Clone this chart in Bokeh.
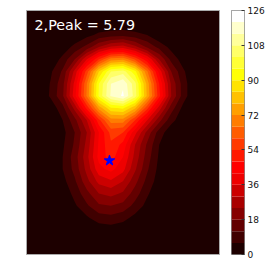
import numpy as np
from bokeh.plotting import figure
from bokeh.layouts import row
from bokeh.models import Range1d, LinearAxis, FixedTicker, Label
from bokeh.embed import file_html
from bokeh.resources import INLINE

title_text = "2,Peak = 5.79"
star_x = [6.88]
star_y = [12.3]
levels = list(range(0, 127, 6))
tick_values = [0, 18, 36, 54, 72, 90, 108, 126]

field = [
 [0,0,0,0,0,0,0,0,0,0,0,0,0,0,0,0,0],
 [0,0,0,0,0,0,0,0,0,0,0,0,0,0,0,0,0],
 [0,0,0,0,0.5,4,7.5,9,10,8,6,1,0,0,0,0,0],
 [0,0,0,2,8,14,24,31,33,26,17,10,4,0,0,0,0],
 [0,0,1,8,18,36,54,69,71,59,43,24,10,3,0,0,0],
 [0,0,5,13,32,57,84,102,105,92,67,40,18,7,0,0,0],
 [0,0,6.5,16,38,66,96,114,119,104,76,48,23,9,0,0,0],
 [0,0,7,17,40,67,97,115,121,105,77,50,24,9,0,0,0],
 [0,0,2,10,26,50,74,89,91,79,56,33,15,4,0,0,0],
 [0,0,0.5,6,16,30,52,69,69,54,36,20,8,2,0,0,0],
 [0,0,0,4,12,24,42,56,54,38,22,9,2,0,0,0,0],
 [0,0,0,5,13,26,43,53,46,30,17,6,1,0,0,0,0],
 [0,0,0,6,15,28,44,51,42,28,15,5,0,0,0,0,0],
 [0,0,0,6,14,26,40,44,38,25,13,4,0,0,0,0,0],
 [0,0,0,4,11,22,32,35,30,20,10,3,0,0,0,0,0],
 [0,0,0,1.5,8,16,24,26,23,15,7,1,0,0,0,0,0],
 [0,0,0,0,5,11,17,18,16,10,4,0,0,0,0,0,0],
 [0,0,0,0,1,5,9,10,8,4,0,0,0,0,0,0,0],
 [0,0,0,0,0,0,2,3,2,0,0,0,0,0,0,0,0],
 [0,0,0,0,0,0,0,0,0,0,0,0,0,0,0,0,0],
 [0,0,0,0,0,0,0,0,0,0,0,0,0,0,0,0,0],
]

def hot(v):
    r = min(max((v + 0.0416) / 0.365, 0), 1)
    g = min(max((v - 0.365) / 0.376, 0), 1)
    b = min(max((v - 0.746) / 0.254, 0), 1)
    return "#%02x%02x%02x" % (round(r * 255), round(g * 255), round(b * 255))

n_bands = len(levels) - 1
palette = [hot(i / (n_bands - 1)) for i in range(n_bands)]

z = np.array(field, dtype=float)
gx = np.arange(z.shape[1])
gy = np.arange(z.shape[0])

p = figure(width=226, height=269, output_backend="svg", toolbar_location=None,
           x_range=Range1d(0, 16), y_range=Range1d(20, 0),
           min_border_left=26, min_border_right=7, min_border_top=10, min_border_bottom=15)
p.axis.visible = False
p.grid.visible = False
p.background_fill_color = palette[0]
p.outline_line_color = "#aaaaaa"
p.outline_line_width = 1
# nested bands, lowest first, so no seams appear between neighbouring bands
for lvl, colour in zip(levels[1:-1], palette[1:]):
    p.contour(gx, gy, z, [lvl, levels[-1] + 1], fill_color=[colour], line_color=None)
p.scatter(star_x, star_y, marker="star", size=11, fill_color="#0000ff", line_color="#0000ff")
p.add_layout(Label(x=8, y=222, x_units="screen", y_units="screen", text=title_text,
                   text_color="white", text_font="DejaVu Sans", text_font_size="14.3px"))

cb = figure(width=46, height=269, output_backend="svg", toolbar_location=None,
            x_range=Range1d(0, 1), y_range=Range1d(0, 126), y_axis_location=None,
            min_border_left=5, min_border_right=28, min_border_top=10, min_border_bottom=15)
cb.xaxis.visible = False
cb.grid.visible = False
cb.outline_line_color = "#888888"
cb.quad(left=0, right=1, bottom=levels[:-1], top=levels[1:], fill_color=palette, line_color=None)
axis = LinearAxis(ticker=FixedTicker(ticks=tick_values))
axis.major_tick_in = 3
axis.major_tick_out = 0
axis.minor_tick_line_color = None
axis.axis_line_color = None
axis.major_tick_line_color = "#333333"
axis.major_label_standoff = 3
axis.major_label_text_font = "DejaVu Sans"
axis.major_label_text_font_size = "9px"
axis.major_label_text_color = "#111111"
cb.add_layout(axis, "right")

layout = row(p, cb, spacing=0)
open("out.html", "w").write(file_html(layout, INLINE))
